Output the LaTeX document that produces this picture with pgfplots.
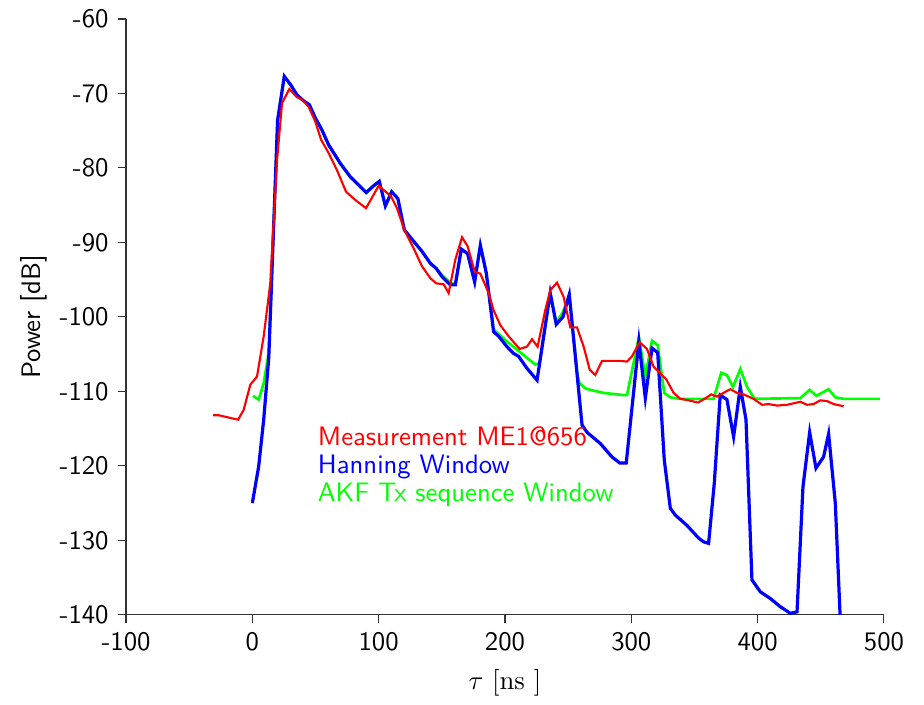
\documentclass[border=0pt]{standalone}
\usepackage{pgfplots}
\pgfplotsset{compat=1.18}
\renewcommand{\familydefault}{\sfdefault}
\definecolor{cred}{RGB}{255,0,0}
\definecolor{cblue}{RGB}{0,0,255}
\definecolor{cgreen}{RGB}{0,255,0}
\begin{document}
\begin{tikzpicture}
\begin{axis}[
  name=ax,
  scale only axis,
  width=283.9pt, height=223.2pt,
  xmin=-100, xmax=500, ymin=-140, ymax=-60,
  axis lines=left,
  axis line style={-, black!80},
  tick align=outside,
  tick style={black!80, thin},
  major tick length=3pt,
  xtick={-100,0,...,500},
  ytick={-140,-130,...,-60},
  /pgf/number format/assume math mode=true,
  /pgf/number format/1000 sep={},
  tick label style={font=\fontsize{10}{12}\selectfont},
  label style={font=\fontsize{10}{12}\selectfont},
  xlabel={$\tau\ [\mathrm{ns}\ ]$},
  ylabel={Power [dB]},
  ylabel style={yshift=-2.2pt},
  clip=true,
]
% AKF Tx sequence Window
\addplot[cgreen, line width=1.0pt] coordinates {
(0.5,-110.6) (5,-111.1) (9,-108.9) (13,-104.8) (20,-73.6) (25.3,-67.7)
(30.6,-68.9) (35.3,-70.2) (40.6,-71.0) (45.1,-71.5) (49.9,-73.3) (55.1,-74.9)
(60.4,-76.9) (69.7,-79.4) (77.6,-81.2) (84.2,-82.3) (90.2,-83.3) (96,-82.4)
(100.5,-81.8) (105.3,-85.1) (110.3,-83.2) (115.2,-84.1) (120.3,-88.3) (125,-89.3)
(134.3,-91.2) (140.9,-92.8) (145.6,-93.5) (150.2,-94.4) (156.7,-95.4) (160.7,-95.6)
(165.4,-90.9) (170.4,-91.5) (176,-95.3) (180.5,-90.4) (185.2,-94.1)
(191,-101.7) (201.6,-103.3) (209.5,-104.4) (217.4,-105.5) (224,-106.4) (227.5,-106.2)
(235.8,-96.8) (240.6,-100.8) (246,-99.3) (250.9,-97) (257.5,-108) (259.1,-108.9)
(263.6,-109.6) (267.6,-109.8) (272.8,-110.0) (278.1,-110.2) (293.9,-110.5) (296.6,-110.5)
(306,-102.7) (311.1,-108) (316.4,-103.2) (320.9,-103.8) (326.1,-110.2) (330.9,-110.8)
(338.8,-111) (365.1,-111) (371.2,-107.5) (375.7,-107.8) (380.5,-109.4) (386.3,-107.0)
(391.6,-109.4) (397.6,-111) (433.8,-110.9) (441.2,-109.8) (446.5,-110.6) (456.2,-109.7)
(461.5,-110.8) (468.1,-111) (496.7,-111)
};
% Hanning Window
\addplot[cblue, line width=1.2pt] coordinates {
(0,-125) (5,-120.1) (9,-113.8) (13,-105.5) (20,-73.6) (25.3,-67.7)
(30.6,-68.9) (35.3,-70.2) (40.6,-71.0) (45.1,-71.5) (49.9,-73.3) (55.1,-74.9)
(60.4,-76.9) (69.7,-79.4) (77.6,-81.2) (84.2,-82.3) (90.2,-83.3) (96,-82.4)
(100.5,-81.8) (105.3,-85.1) (110.3,-83.2) (115.2,-84.1) (120.3,-88.3) (125,-89.3)
(134.3,-91.2) (140.9,-92.8) (145.6,-93.5) (150.2,-94.6) (156.7,-95.7) (160.7,-95.7)
(165.4,-90.9) (170.4,-91.5) (176,-95.3) (180.5,-90.4) (185.2,-94.1) (191,-102.0)
(195,-102.6) (201.6,-104) (206.8,-104.9) (210.8,-105.3) (217.4,-106.9) (225.4,-108.5)
(235.8,-96.8) (240.6,-101) (245.9,-100) (250.9,-97) (261,-114.5) (265,-115.5)
(275.5,-117) (284.7,-118.8) (290.8,-119.6) (296,-119.6) (306,-103.3) (311.1,-110.9)
(316.4,-104.2) (320.9,-104.8) (326.1,-119.2) (330.9,-125.7) (334.8,-126.6) (344.1,-128)
(353.3,-129.7) (357.3,-130.2) (361.2,-130.4) (365.7,-122.3) (370.4,-110.5) (375.7,-111.1)
(381,-116.1) (386.3,-109.4) (390.8,-113.8) (395.5,-135.3) (402.1,-136.9) (410,-137.8)
(417.9,-138.9) (425.9,-139.8) (431.2,-139.6) (435.9,-122.8) (441.2,-115.5) (446.2,-120.3)
(452.2,-118.8) (456.2,-115.7) (461.5,-125) (465.4,-140.5)
};
% Measurement
\addplot[cred, line width=0.8pt] coordinates {
(-31.1,-113.2) (-26.6,-113.2) (-11.3,-113.8) (-6.9,-112.5) (-1.6,-109.1) (3.7,-108.0)
(9,-102.6) (14.2,-95.5) (19.6,-78.9) (23.5,-71.3) (29.3,-69.4) (35.3,-70.5)
(39.3,-70.8) (44.6,-71.8) (49.9,-73.8) (54.4,-76.2) (60.4,-78.0) (67,-80.3)
(74.2,-83.2) (81.5,-84.3) (90,-85.4) (100,-82.4) (109.8,-83.8) (114.5,-85.4)
(120.3,-88.3) (127.7,-90.8) (134.3,-93.2) (140.9,-94.8) (145.6,-95.5) (151.4,-95.6)
(155.4,-96.8) (160.7,-92.3) (166,-89.3) (170.4,-90.5) (176,-93.9) (180.5,-94.2)
(187.1,-96.8) (191,-99.1) (196.3,-101.1) (202.9,-102.6) (211.6,-104.3) (217.4,-104)
(221.4,-103) (225.8,-104) (231.9,-99.1) (235.9,-96.4) (241.2,-95.4) (246.4,-97.3)
(251.7,-101.4) (257,-101.4) (262.3,-104) (267.1,-107.1) (271.5,-107.8) (276.8,-105.9)
(291.3,-105.9) (296.6,-106) (300.5,-105.3) (306.6,-103.4) (312.4,-104.3) (317.7,-106.7)
(323,-107.6) (327.7,-108.4) (333.5,-110.2) (338.8,-111) (345.4,-111.2) (352.8,-111.5)
(358,-111) (363.3,-110.4) (367.8,-110.7) (373,-110.2) (378.4,-109.7) (383.7,-110.2)
(388.9,-110.4) (396.8,-111) (403.5,-111.8) (408.7,-111.7) (415.3,-111.9) (423.3,-111.8)
(428.5,-111.6) (433.8,-111.4) (439.1,-111.8) (444.3,-111.7) (449.6,-111.2) (454.9,-111.3)
(460.2,-111.7) (468.1,-112)
};
\node[anchor=base west, inner sep=0pt, text=cred, font=\fontsize{10}{12}\selectfont] at (axis cs:51.5,-117.2) {Measurement ME1@656};
\node[anchor=base west, inner sep=0pt, text=cblue, font=\fontsize{10}{12}\selectfont] at (axis cs:51.5,-121.0) {Hanning Window};
\node[anchor=base west, inner sep=0pt, text=cgreen, font=\fontsize{10}{12}\selectfont] at (axis cs:51.5,-124.8) {AKF Tx sequence Window};
\end{axis}
\path ([shift={(-47.2pt,-30.7pt)}]ax.south west) rectangle ++(346.1pt,261.0pt);
\end{tikzpicture}
\end{document}
